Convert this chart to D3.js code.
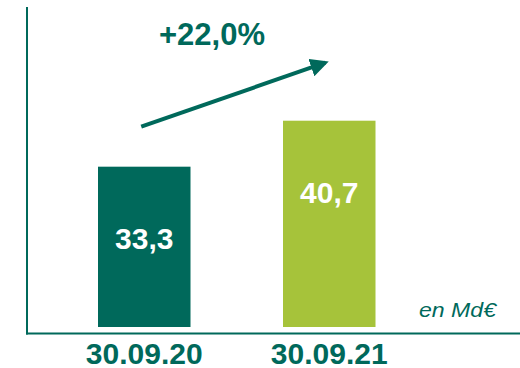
<!DOCTYPE html>
<html lang="fr">
<head>
<meta charset="UTF-8">
<title>Encours</title>
<script src="https://d3js.org/d3.v7.min.js"></script>
<style>
    body { margin: 0; background: #fff; }
    svg text { font-family: "Liberation Sans", Arial, Helvetica, sans-serif; }
</style>
</head>
<body>
<svg width="520" height="368"></svg>
<script>
    // data
    const dates = ["30.09.20", "30.09.21"];
    const values = [33.3, 40.7];
    const valueLabels = ["33,3", "40,7"];
    const barColors = ["#00695b", "#a6c33a"];
    const growthLabel = "+22,0%";
    const unitLabel = "en Md\u20ac";

    const dark = "#00695b";
    const svg = d3.select("svg");

    const x = d3.scaleBand()
        .domain(dates)
        .range([5.5, 468])
        .padding(0.5);

    // the bars don't start from zero in the original
    const y = d3.scaleLinear()
        .domain([7.5, 59])
        .range([327, 7]);

    // axis lines
    svg.append("line")
        .attr("x1", 27).attr("x2", 27)
        .attr("y1", 7).attr("y2", 334.5)
        .attr("stroke", dark).attr("stroke-width", 2);
    svg.append("line")
        .attr("x1", 26).attr("x2", 520)
        .attr("y1", 333.5).attr("y2", 333.5)
        .attr("stroke", dark).attr("stroke-width", 2);

    const data = dates.map((d, i) => ({date: d, value: values[i], label: valueLabels[i], color: barColors[i]}));

    svg.append("g")
        .selectAll("rect")
        .data(data)
        .enter()
        .append("rect")
        .attr("x", d => x(d.date))
        .attr("width", x.bandwidth())
        .attr("y", d => y(d.value))
        .attr("height", d => y.range()[0] - y(d.value))
        .attr("fill", d => d.color);

    svg.append("g")
        .selectAll("text")
        .data(data)
        .enter()
        .append("text")
        .attr("x", d => x(d.date) + x.bandwidth() / 2)
        .attr("y", d => y(d.value) + 82)
        .attr("text-anchor", "middle")
        .attr("fill", "#fff")
        .attr("font-weight", "bold")
        .attr("font-size", "30px")
        .text(d => d.label);

    // category labels
    svg.append("g")
        .selectAll("text")
        .data(data)
        .enter()
        .append("text")
        .attr("x", d => x(d.date) + x.bandwidth() / 2)
        .attr("y", 363.5)
        .attr("text-anchor", "middle")
        .attr("fill", dark)
        .attr("font-weight", "bold")
        .attr("font-size", "30px")
        .text(d => d.date);

    svg.append("text")
        .attr("x", 496)
        .attr("y", 317)
        .attr("text-anchor", "end")
        .attr("fill", dark)
        .attr("font-style", "italic")
        .attr("font-size", "20px")
        .attr("textLength", 77)
        .attr("lengthAdjust", "spacingAndGlyphs")
        .text(unitLabel);

    // growth arrow, anchored on the two bars
    svg.append("defs").append("marker")
        .attr("id", "head")
        .attr("viewBox", "0 0 10 10")
        .attr("refX", 8).attr("refY", 5)
        .attr("markerWidth", 4.6).attr("markerHeight", 4.6)
        .attr("markerUnits", "strokeWidth")
        .attr("orient", "auto")
        .append("path")
        .attr("d", "M0,0 L10,5 L0,10 Z")
        .attr("fill", dark);

    const c1 = x(dates[0]) + x.bandwidth() / 2;
    const c2 = x(dates[1]) + x.bandwidth() / 2;
    svg.append("line")
        .attr("x1", c1 - 3).attr("y1", y(values[0]) - 40)
        .attr("x2", c2 - 4).attr("y2", y(values[1]) - 58)
        .attr("stroke", dark)
        .attr("stroke-width", 4)
        .attr("marker-end", "url(#head)");

    svg.append("text")
        .attr("x", 212)
        .attr("y", 45)
        .attr("text-anchor", "middle")
        .attr("fill", dark)
        .attr("font-weight", "bold")
        .attr("font-size", "31px")
        .text(growthLabel);
</script>
</body>
</html>
